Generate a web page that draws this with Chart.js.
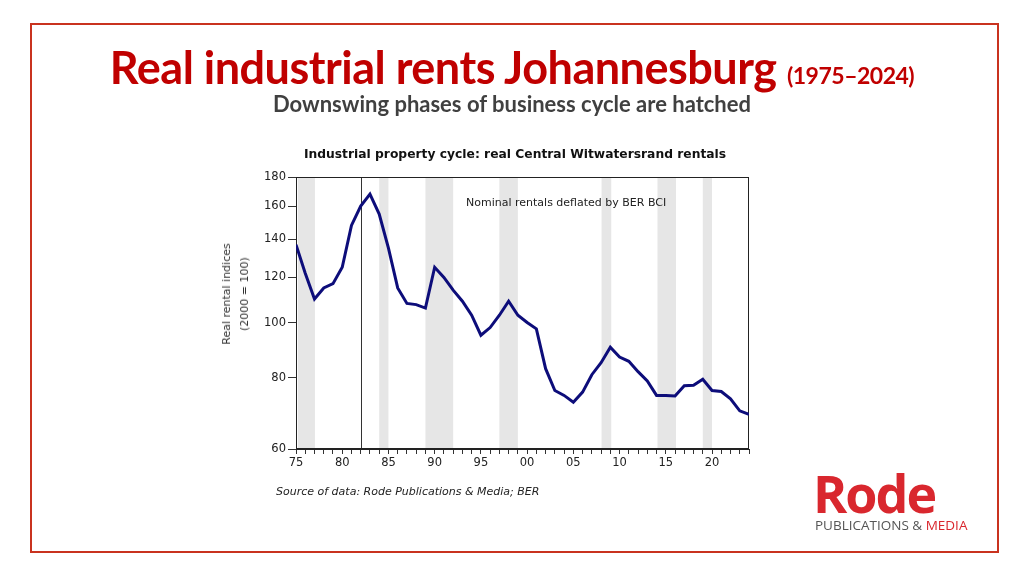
<!DOCTYPE html>
<html><head><meta charset="utf-8">
<script src="https://cdn.jsdelivr.net/npm/chart.js@4"></script>
<style>
body{margin:0;width:1024px;height:576px;background:#fff;position:relative;overflow:hidden;font-family:Lato,sans-serif}
.frame{position:absolute;left:30px;top:23px;width:965px;height:526px;border:2px solid #c9331f}
.t{position:absolute;white-space:nowrap;z-index:2}
canvas{position:absolute;left:0;top:0;z-index:1}
</style></head><body>
<div class="frame"></div>
<div class="t" style="left:0;width:1024px;text-align:center;top:40px;color:#c00000;font-weight:bold;font-size:45px;letter-spacing:-0.5px">Real industrial rents Johannesburg <span style="font-size:23px">(1975–2024)</span></div>
<div class="t" style="left:0;width:1024px;text-align:center;top:90px;color:#404040;font-weight:bold;font-size:22px">Downswing phases of business cycle are hatched</div>
<div class="t" style="left:0;width:1030px;text-align:center;top:147px;color:#111;font-weight:bold;font-size:12.3px;font-family:'DejaVu Sans'">Industrial property cycle: real Central Witwatersrand rentals</div>
<div class="t" style="left:466px;top:196px;color:#222;font-size:11px;font-family:'DejaVu Sans'">Nominal rentals deflated by BER BCI</div>
<div class="t" style="left:236px;top:294px;transform:translate(-50%,-50%) rotate(-90deg);text-align:center;color:#333;font-size:11px;line-height:18px;font-family:'DejaVu Sans'">Real rental indices<br>(2000 = 100)</div>
<div class="t" style="left:276px;top:485px;color:#222;font-size:11px;font-style:italic;font-family:'DejaVu Sans'">Source of data: Rode Publications &amp; Media; BER</div>
<div class="t" style="left:813px;top:463px;color:#d9272e;font-weight:bold;font-size:52px;font-family:'Open Sans';letter-spacing:-2px;line-height:60px">Rode</div>
<div class="t" style="left:815px;top:516px;color:#555;font-size:13.5px;font-family:'Open Sans'">PUBLICATIONS &amp; <span style="color:#d9272e">MEDIA</span></div>
<canvas id="c" width="1024" height="576"></canvas>
<script>
const years=[];for(let y=1975;y<=2024;y++)years.push(y);
const rents=[137,122,110,115,117,125,148,160,168,155,135,115,108,107.5,106,125,120,114,109,103,95,98,103,109,103,100,97.5,83,76,74.5,72.5,75.5,81,85,90.5,87,85.5,82,79,74.5,74.5,74.3,77.5,77.6,79.5,76,75.7,73.5,70,69];
const bandStarts=[1975.2,1984,1989,1997,2008.05,2014.1,2019];
const bandEnds=[1977.05,1985,1992,1999,2009.1,2016.1,2020];
const yTicks=[60,80,100,120,140,160,180];
const markerYear=1982;
const bg={id:'bg',beforeDatasetsDraw(ch){const {ctx,chartArea:a,scales:{x}}=ch;ctx.save();ctx.fillStyle='#e6e6e6';
bandStarts.forEach((s,i)=>{const x0=x.getPixelForValue(s),x1=x.getPixelForValue(bandEnds[i]);ctx.fillRect(x0,a.top,x1-x0,a.bottom-a.top);});
const mx=Math.round(x.getPixelForValue(markerYear))+0.5;ctx.strokeStyle='#333';ctx.lineWidth=1;ctx.beginPath();ctx.moveTo(mx,a.top);ctx.lineTo(mx,a.bottom);ctx.stroke();
ctx.strokeStyle='#222';ctx.strokeRect(a.left+0.5,a.top+0.5,a.right-a.left-1,a.bottom-a.top-1);ctx.restore();}};
new Chart(document.getElementById('c'),{type:'line',
data:{datasets:[{data:years.map((y,i)=>({x:y,y:rents[i]})),borderColor:'#0d0d7a',borderWidth:3,pointRadius:0,tension:0}]},
options:{responsive:false,animation:false,events:[],layout:{padding:{left:200,top:177,right:275,bottom:97}},
plugins:{legend:{display:false},tooltip:{enabled:false}},
scales:{
x:{type:'linear',min:1975,max:2024,afterFit(s){s.height=30},afterBuildTicks(s){s.ticks=years.map(v=>({value:v}))},
ticks:{autoSkip:false,maxRotation:0,color:'#222',font:{family:'DejaVu Sans',size:11.5},padding:2,callback:v=>v%5===0?String(v%100).padStart(2,'0'):''},
grid:{drawOnChartArea:false,tickLength:5,color:'#333'},border:{color:'#222'}},
y:{type:'logarithmic',min:60,max:180,afterFit(s){s.width=96},afterBuildTicks(s){s.ticks=yTicks.map(v=>({value:v}))},
ticks:{color:'#222',font:{family:'DejaVu Sans',size:11.5},padding:2,callback:v=>String(v)},
grid:{drawOnChartArea:false,tickLength:8,color:'#333'},border:{color:'#222'}}}},
plugins:[bg]});
</script></body></html>
